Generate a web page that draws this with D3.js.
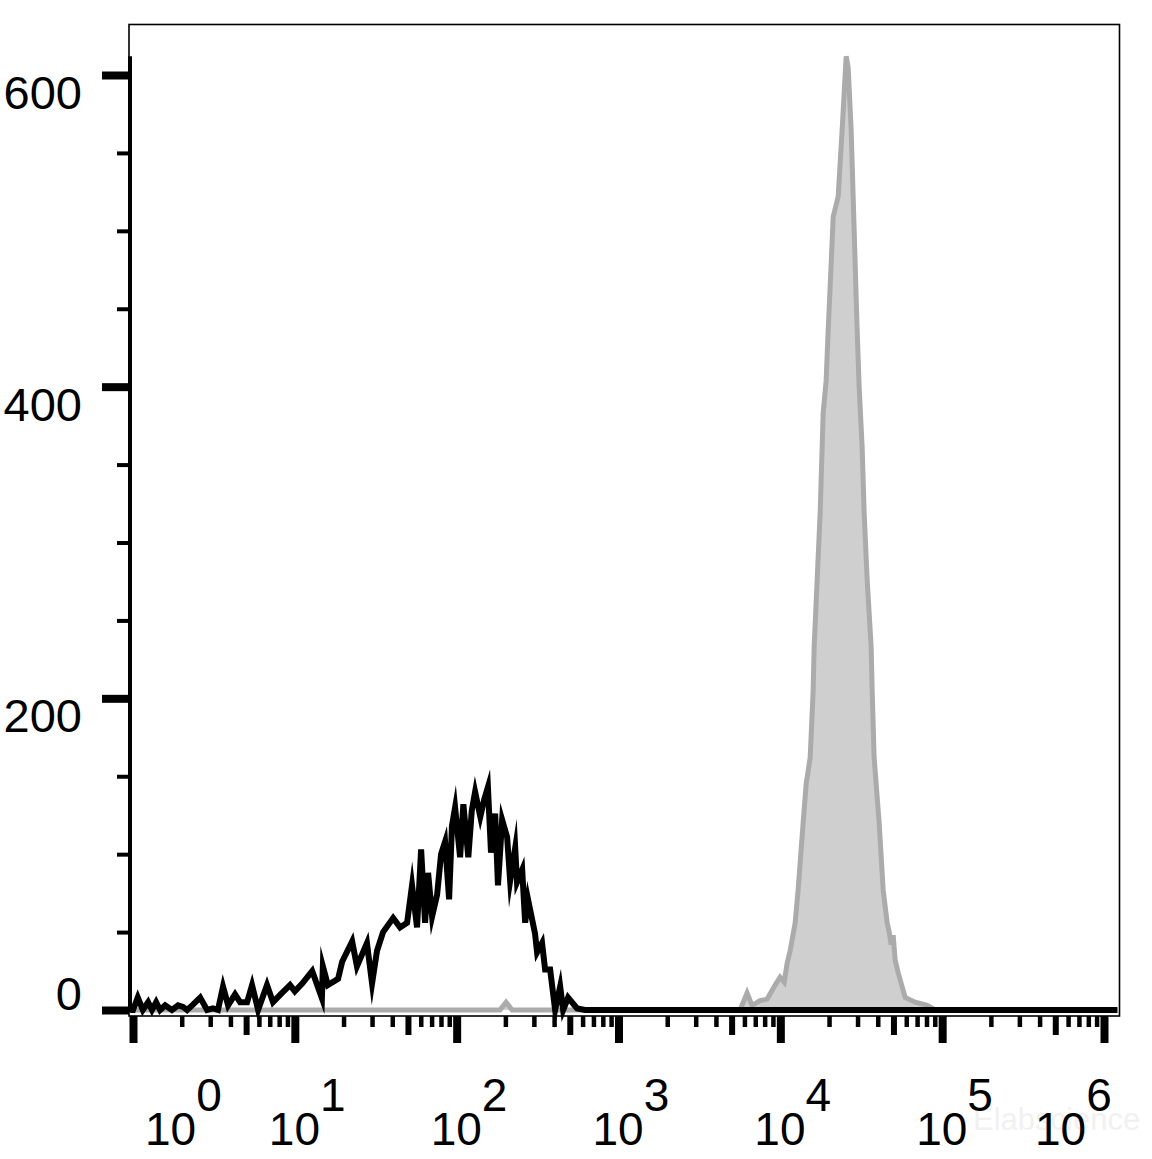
<!DOCTYPE html>
<html>
<head>
<meta charset="utf-8">
<script src="https://cdn.jsdelivr.net/npm/d3@7"></script>
<style>
  html, body { margin: 0; padding: 0; background: #ffffff; }
  svg { display: block; }
  text { font-family: "Liberation Sans", Arial, sans-serif; }
</style>
</head>
<body>
<svg id="chart" width="1152" height="1159"></svg>
<script>
// ---------- data ----------
// Isotype control (black outline histogram): fluorescence intensity and event count
const blackIntensity = [
  0.96, 1.0, 1.07, 1.15, 1.24, 1.31, 1.39, 1.47, 1.58, 1.74,
  1.90, 2.04, 2.16, 2.32, 2.6, 2.87, 3.12, 3.35, 3.6, 3.87,
  4.27, 4.59, 5.07, 5.44, 5.93, 6.73, 7.33, 8.34, 9.34, 10.0,
  11.1, 12.8, 14.7, 14.9, 16.0, 18.5, 19.6, 22.6, 24.2, 27.9,
  30.0, 32.2, 35.1, 40.5, 44.7, 49.4, 53.0, 56.9, 60.3, 63.8,
  66.6, 70.5, 75.7, 80.1, 84.8, 89.8, 93.5, 97.8, 105, 110,
  118, 124, 130, 140, 148, 156, 163, 173, 180, 191,
  205, 214, 230, 236, 254, 265, 276, 305, 314, 337,
  352, 378, 406, 436, 455, 488, 555, 622, 1210000
];
const blackCount = [
  0, 0, 8, 0, 5, 0, 5, 0, 3, 0,
  3, 2, 0, 3, 8, 0, 1, 0, 15, 3,
  10, 5, 5, 16, 0, 16, 5, 11, 16, 12,
  17, 25, 7.5, 28, 16, 20, 31, 44, 28, 43,
  17, 38, 50, 59, 53, 56, 80, 53, 103, 56,
  88, 60, 74, 100, 108, 71, 118, 130, 98, 132,
  98, 128, 140, 124, 135, 143, 101, 126, 80, 122,
  111, 83, 104, 82, 90, 56, 71, 49, 37, 43,
  26, 26, 0, 15, 0, 8, 1, 0, 0
];
// Stained sample (grey filled histogram)
const greyIntensity = [
  0.96, 185, 202, 220, 5640, 6230, 6690, 7500, 8290, 9290,
  9970, 10560, 11020, 11500, 12350, 12880, 13830, 14440, 15290, 15950,
  16180, 16890, 17620, 18130, 18390, 19190, 19750, 20610, 21210, 22770,
  24100, 25510, 26250, 27390, 28180, 29000, 29840, 30690, 32030, 32960,
  34400, 36410, 36940, 37980, 40800, 43190, 45730, 47050, 48400, 49800,
  51230, 53470, 59060, 68120, 80770, 90530, 1210000
];
const greyCount = [
  0, 0, 5, 0, 0, 11, 3, 6, 7, 16,
  21, 18, 30, 38, 56, 77, 120, 145, 162, 205,
  233, 276, 319, 361, 383, 404, 436, 479, 509, 522,
  565, 612, 605, 565, 522, 479, 436, 400, 361, 319,
  276, 233, 205, 162, 120, 77, 56, 50, 42, 48,
  32, 24, 8, 5, 3, 0, 0
];
// Axis ticks
const yMajorTicks = [0, 200, 400, 600];
const yMinorTicks = [50, 100, 150, 250, 300, 350, 450, 500, 550];
const xDecades = [0, 1, 2, 3, 4, 5, 6];
const xMinorMultipliers = [2, 3, 4, 6, 7, 8, 9];
const xMidMultiplier = 5;
const watermark = "Elabscience";

// ---------- layout ----------
const svg = d3.select("#chart");
const plot = { left: 129, right: 1119.5, top: 24.5, bottom: 1016 };

const x = d3.scaleLog().domain([1, 1e6]).range([133, 1104]);
const y = d3.scaleLinear().domain([0, 600]).range([1010, 75]);

const blackData = blackIntensity.map((v, i) => ({ x: v, y: blackCount[i] }));
const greyData = greyIntensity.map((v, i) => ({ x: v, y: greyCount[i] }));

// watermark (very faint)
svg.append("text")
  .attr("x", 973).attr("y", 1130)
  .attr("font-size", 31)
  .attr("fill", "#f1f1f1")
  .text(watermark);

// frame
svg.append("rect")
  .attr("x", plot.left).attr("y", plot.top)
  .attr("width", plot.right - plot.left).attr("height", plot.bottom - plot.top)
  .attr("fill", "none").attr("stroke", "#000").attr("stroke-width", 1.6);

// grey filled histogram
const area = d3.area().x(d => x(d.x)).y0(y(0)).y1(d => y(d.y));
const line = d3.line().x(d => x(d.x)).y(d => y(d.y));
svg.append("path").datum(greyData)
  .attr("d", area).attr("fill", "#cfcfcf").attr("stroke", "none");
svg.append("path").datum(greyData)
  .attr("d", line).attr("fill", "none").attr("stroke", "#ababab")
  .attr("stroke-width", 5).attr("stroke-linejoin", "miter");

// black outline histogram
svg.append("path").datum(blackData)
  .attr("d", line).attr("fill", "none").attr("stroke", "#000")
  .attr("stroke-width", 6).attr("stroke-linejoin", "miter").attr("stroke-miterlimit", 10);

// ---------- y axis ----------
const yMax = d3.max(greyCount);
svg.append("line")
  .attr("x1", 130).attr("x2", 130)
  .attr("y1", y(yMax)).attr("y2", 1012)
  .attr("stroke", "#000").attr("stroke-width", 4);

const yMajAxis = svg.append("g").attr("transform", "translate(129,0)")
  .call(d3.axisLeft(y).tickValues(yMajorTicks).tickSize(27).tickFormat(""));
yMajAxis.select(".domain").remove();
yMajAxis.selectAll(".tick line").attr("stroke", "#000").attr("stroke-width", 8);

const yMinAxis = svg.append("g").attr("transform", "translate(129,0)")
  .call(d3.axisLeft(y).tickValues(yMinorTicks).tickSize(12).tickFormat(""));
yMinAxis.select(".domain").remove();
yMinAxis.selectAll(".tick line").attr("stroke", "#000").attr("stroke-width", 4);

svg.append("g").selectAll("text").data(yMajorTicks).join("text")
  .attr("x", 82)
  .attr("y", d => Math.min(y(d) + 34, y(0)))
  .attr("text-anchor", "end")
  .attr("font-size", 47)
  .attr("fill", "#000")
  .text(d => d);

// ---------- x axis ----------
const xMajor = xDecades.map(e => Math.pow(10, e));
const xMid = xDecades.slice(0, -1).map(e => xMidMultiplier * Math.pow(10, e));
const xMinor = xDecades.slice(0, -1).flatMap(e => xMinorMultipliers.map(m => m * Math.pow(10, e)));

function xTicks(values, size, width) {
  const g = svg.append("g").attr("transform", `translate(0,${plot.bottom})`)
    .call(d3.axisBottom(x).tickValues(values).tickSize(size).tickFormat(""));
  g.select(".domain").remove();
  g.selectAll(".tick line").attr("stroke", "#000").attr("stroke-width", width);
}
xTicks(xMajor, 27, 8);
xTicks(xMid, 19, 6);
xTicks(xMinor, 11, 4.5);

const xl = svg.append("g").selectAll("text").data(xDecades).join("text")
  .attr("x", d => Math.max(145, Math.min(1035, x(Math.pow(10, d)) - 26)))
  .attr("y", 1145)
  .attr("font-size", 46)
  .attr("fill", "#000");
xl.append("tspan").text("10");
xl.append("tspan").attr("dy", -34).text(d => d);
</script>
</body>
</html>
